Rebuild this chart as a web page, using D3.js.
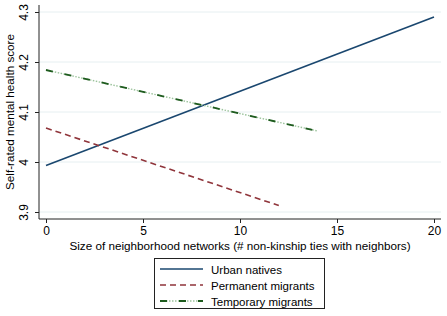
<!DOCTYPE html>
<html lang="en">
<head>
<meta charset="UTF-8">
<title>Mental health by neighborhood networks</title>
<script src="https://d3js.org/d3.v7.min.js"></script>
<style>
  body { margin: 0; background: #fff; }
  text { font-family: "Liberation Sans", Arial, sans-serif; fill: #000; }
</style>
</head>
<body>
<script>
// data
const xTicks = [0, 5, 10, 15, 20];
const yTicks = [3.9, 4, 4.1, 4.2, 4.3];
const seriesNames = ["Urban natives", "Permanent migrants", "Temporary migrants"];
const urbanX = [0, 20], urbanY = [3.993, 4.29];
const permX = [0, 12], permY = [4.068, 3.913];
const tempX = [0, 14], tempY = [4.184, 4.062];

const width = 447, height = 316;
const svg = d3.select("body").append("svg")
    .attr("width", width).attr("height", height);

const x = d3.scaleLinear().domain([0, 20]).range([46, 434]);
const y = d3.scaleLinear().domain([3.9, 4.3]).range([212, 12]);
const axisX = 39, axisY = 219, plotRight = 441;

// gridlines
svg.selectAll("line.grid").data(yTicks).enter().append("line")
    .attr("x1", axisX).attr("x2", plotRight)
    .attr("y1", d => y(d)).attr("y2", d => y(d))
    .attr("stroke", "#e6eff1").attr("stroke-width", 1);

// y axis
const yAxis = svg.append("g").attr("transform", `translate(${axisX},0)`)
    .call(d3.axisLeft(y).tickValues(yTicks).tickSize(4).tickFormat(d3.format("")));
yAxis.select(".domain").attr("d", `M0,5V${axisY}`).attr("stroke", "#222");
yAxis.selectAll(".tick line").attr("stroke", "#222");
yAxis.selectAll(".tick text")
    .attr("font-size", 12)
    .attr("text-anchor", "middle")
    .attr("transform", "rotate(-90)")
    .attr("x", 0).attr("y", -11).attr("dy", 0);

// x axis
const xAxis = svg.append("g").attr("transform", `translate(0,${axisY})`)
    .call(d3.axisBottom(x).tickValues(xTicks).tickSize(4));
xAxis.select(".domain").attr("d", `M${axisX},0H${plotRight}`).attr("stroke", "#222");
xAxis.selectAll(".tick line").attr("stroke", "#222");
xAxis.selectAll(".tick text").attr("font-size", 12).attr("y", 7);

// axis titles
svg.append("text")
    .attr("transform", `translate(14,${(5 + axisY) / 2}) rotate(-90)`)
    .attr("text-anchor", "middle").attr("font-size", 11.7)
    .text("Self-rated mental health score");
svg.append("text")
    .attr("x", 240).attr("y", 250)
    .attr("text-anchor", "middle").attr("font-size", 11.7)
    .text("Size of neighborhood networks (# non-kinship ties with neighbors)");

const line = d3.line().x(d => x(d[0])).y(d => y(d[1]));
const pts = (xs, ys) => xs.map((v, i) => [v, ys[i]]);

// series
svg.append("path").datum(pts(urbanX, urbanY)).attr("d", line)
    .attr("fill", "none").attr("stroke", "#1a476f").attr("stroke-width", 1.6);
svg.append("path").datum(pts(permX, permY)).attr("d", line)
    .attr("fill", "none").attr("stroke", "#90353b").attr("stroke-width", 1.6)
    .attr("stroke-dasharray", "6,4");
svg.append("path").datum(pts(tempX, tempY)).attr("d", line)
    .attr("fill", "none").attr("stroke", "#9cc39c").attr("stroke-width", 1.4)
    .attr("stroke-dasharray", "1.5,1.5");
svg.append("path").datum(pts(tempX, tempY)).attr("d", line)
    .attr("fill", "none").attr("stroke", "#1e5b1e").attr("stroke-width", 1.8)
    .attr("stroke-dasharray", "7,12");

// legend
const legend = svg.append("g");
legend.append("rect")
    .attr("x", 154.5).attr("y", 258.5).attr("width", 170).attr("height", 50)
    .attr("fill", "#fff").attr("stroke", "#222").attr("stroke-width", 1);
const styles = [
  [{ c: "#1a476f", w: 1.6, d: null }],
  [{ c: "#90353b", w: 1.6, d: "6,4" }],
  [{ c: "#9cc39c", w: 1.4, d: "1.5,1.5" }, { c: "#1e5b1e", w: 1.8, d: "7,12" }]
];
seriesNames.forEach((name, i) => {
  const ly = 269 + i * 16;
  styles[i].forEach(s => {
    legend.append("line")
      .attr("x1", 160).attr("x2", 203).attr("y1", ly).attr("y2", ly)
      .attr("stroke", s.c).attr("stroke-width", s.w)
      .attr("stroke-dasharray", s.d);
  });
  legend.append("text")
    .attr("x", 211).attr("y", ly + 4.5).attr("font-size", 11.5)
    .text(name);
});
</script>
</body>
</html>
